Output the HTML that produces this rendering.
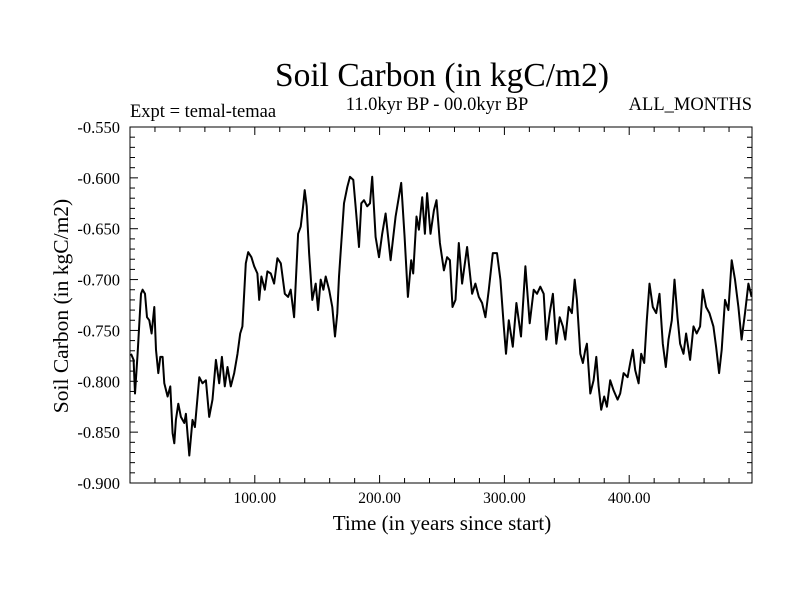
<!DOCTYPE html>
<html><head><meta charset="utf-8"><style>
body{margin:0;background:#fff;}
svg text{font-family:"Liberation Serif",serif;fill:#000;}
</style></head><body>
<svg id="chart" width="800" height="600" viewBox="0 0 800 600" xmlns="http://www.w3.org/2000/svg">
<rect width="800" height="600" fill="#fff"/>
<text x="442" y="86" font-size="33.5" text-anchor="middle">Soil Carbon (in kgC/m2)</text>
<text x="437" y="110" font-size="18.5" text-anchor="middle">11.0kyr BP - 00.0kyr BP</text>
<text x="130" y="117" font-size="18.5">Expt = temal-temaa</text>
<text x="752" y="110" font-size="18.5" text-anchor="end">ALL_MONTHS</text>
<g id="axes"></g>
<text x="442" y="530" font-size="21" text-anchor="middle">Time (in years since start)</text>
<text transform="translate(68,306) rotate(-90)" font-size="21.5" text-anchor="middle">Soil Carbon (in kgC/m2)</text>
</svg>
<script>
const years=[0.8,2.9,4.0,6.1,8.8,10.1,12.0,13.6,15.5,17.3,19.5,20.8,22.7,24.3,26.1,27.5,30.1,32.3,34.1,35.5,36.8,38.7,40.8,43.5,44.8,47.5,50.1,52.0,55.5,58.1,60.8,63.5,66.1,68.8,71.5,73.6,76.0,78.1,80.8,83.5,86.1,88.3,90.1,92.8,94.7,97.3,99.5,102.1,103.5,105.3,108.0,110.1,112.8,115.5,118.1,120.8,124.0,126.7,128.8,131.5,134.7,136.8,138.7,140.0,141.6,143.5,146.1,148.8,150.7,152.8,155.0,156.8,159.5,162.1,164.3,166.1,167.5,171.5,174.1,176.3,178.9,180.8,183.5,185.3,187.5,190.1,192.3,194.1,196.8,199.5,202.1,204.8,208.8,212.8,217.3,220.0,222.7,225.3,226.9,229.6,231.5,234.1,236.3,238.1,240.8,243.5,245.6,248.3,251.5,254.1,256.3,258.4,260.8,263.5,266.1,270.1,274.1,276.8,279.5,282.1,284.8,287.5,290.7,294.1,296.8,299.5,301.3,303.5,306.7,309.6,313.3,316.8,320.3,323.5,326.1,328.8,331.5,333.6,336.3,338.9,341.6,344.3,346.9,348.8,351.5,354.1,356.3,358.1,360.8,362.9,364.8,366.1,368.8,371.5,373.6,375.5,377.6,380.0,382.1,384.8,387.5,390.7,392.8,395.5,398.7,400.8,402.9,404.8,407.5,409.6,412.0,414.1,416.3,418.9,421.6,424.3,426.9,429.3,431.5,434.1,436.3,438.7,440.8,443.5,445.6,448.8,451.5,454.1,456.8,458.9,461.6,464.3,467.5,469.6,472.0,474.1,476.8,479.5,482.1,484.8,487.5,490.1,492.8,495.5,498.1];
const carbon=[-0.773,-0.779,-0.812,-0.773,-0.714,-0.710,-0.714,-0.737,-0.740,-0.753,-0.727,-0.769,-0.792,-0.776,-0.776,-0.802,-0.815,-0.805,-0.851,-0.861,-0.838,-0.822,-0.835,-0.841,-0.832,-0.873,-0.838,-0.845,-0.796,-0.802,-0.799,-0.835,-0.818,-0.779,-0.802,-0.776,-0.805,-0.786,-0.805,-0.792,-0.773,-0.753,-0.746,-0.684,-0.673,-0.678,-0.687,-0.694,-0.720,-0.697,-0.710,-0.692,-0.694,-0.704,-0.679,-0.684,-0.714,-0.717,-0.710,-0.737,-0.655,-0.648,-0.628,-0.612,-0.628,-0.674,-0.720,-0.704,-0.730,-0.700,-0.710,-0.697,-0.710,-0.727,-0.756,-0.733,-0.697,-0.625,-0.609,-0.599,-0.602,-0.628,-0.668,-0.625,-0.622,-0.628,-0.625,-0.599,-0.658,-0.678,-0.655,-0.635,-0.681,-0.638,-0.605,-0.658,-0.717,-0.681,-0.694,-0.638,-0.651,-0.619,-0.655,-0.615,-0.655,-0.632,-0.622,-0.664,-0.691,-0.678,-0.681,-0.727,-0.720,-0.664,-0.704,-0.668,-0.714,-0.704,-0.717,-0.723,-0.737,-0.710,-0.674,-0.674,-0.700,-0.746,-0.773,-0.740,-0.766,-0.723,-0.756,-0.687,-0.743,-0.710,-0.714,-0.707,-0.714,-0.759,-0.733,-0.714,-0.763,-0.737,-0.746,-0.759,-0.727,-0.733,-0.700,-0.720,-0.773,-0.782,-0.769,-0.763,-0.812,-0.799,-0.776,-0.805,-0.828,-0.815,-0.825,-0.799,-0.809,-0.818,-0.812,-0.792,-0.796,-0.782,-0.769,-0.789,-0.802,-0.773,-0.782,-0.740,-0.704,-0.727,-0.733,-0.714,-0.763,-0.786,-0.759,-0.740,-0.700,-0.737,-0.763,-0.773,-0.753,-0.779,-0.746,-0.753,-0.746,-0.710,-0.727,-0.733,-0.746,-0.766,-0.792,-0.769,-0.720,-0.730,-0.681,-0.700,-0.727,-0.759,-0.733,-0.704,-0.717];
const xTicks=[100,200,300,400];
const xTickLabels=["100.00","200.00","300.00","400.00"];
const yTicks=[-0.55,-0.6,-0.65,-0.7,-0.75,-0.8,-0.85,-0.9];
const yTickLabels=["-0.550","-0.600","-0.650","-0.700","-0.750","-0.800","-0.850","-0.900"];

const L=130,R=752,T=127,B=483;
const X0=0,X1=498.4,Y0=-0.9,Y1=-0.55;
function xs(v){return L+(v-X0)/(X1-X0)*(R-L);}
function ys(v){return B-(v-Y0)/(Y1-Y0)*(B-T);}
const NS="http://www.w3.org/2000/svg";
const g=document.getElementById('axes');
function mk(tag,attrs){const e=document.createElementNS(NS,tag);for(const k in attrs)e.setAttribute(k,attrs[k]);g.appendChild(e);return e;}

const frame=mk('rect',{x:L,y:T,width:R-L,height:B-T,fill:'none',stroke:'#000','stroke-width':1});



for(let v=20;v<=X1;v+=20){
  const major=(v%100===0);
  const len=major?8:5;
  const x=xs(v);
  const t1=mk('line',{x1:x,x2:x,y1:B,y2:B-len,stroke:'#000','stroke-width':1});
  
  
  const t2=mk('line',{x1:x,x2:x,y1:T,y2:T+len,stroke:'#000','stroke-width':1});
  
  
}
xTicks.forEach((v,i)=>{
  const t=mk('text',{x:xs(v),y:503,'font-size':15.5,'text-anchor':'middle'});
  t.textContent=xTickLabels[i];
  
  
});
for(let k=0;k<=35;k++){
  const v=Y0+k*0.01;
  const major=(k%5===0);
  const len=major?8:5;
  const y=ys(v);
  const t1=mk('line',{x1:L,x2:L+len,y1:y,y2:y,stroke:'#000','stroke-width':1});
  
  
  const t2=mk('line',{x1:R,x2:R-len,y1:y,y2:y,stroke:'#000','stroke-width':1});
  
  
}
yTicks.forEach((v,i)=>{
  const t=mk('text',{x:120,y:ys(v)+6,'font-size':16.5,'text-anchor':'end'});
  t.textContent=yTickLabels[i];
  
  
});
let d='';
years.forEach((yr,i)=>{d+=(i?'L':'M')+xs(yr).toFixed(1)+','+ys(carbon[i]).toFixed(1);});
const line=mk('path',{d:d,fill:'none',stroke:'#000','stroke-width':2,'stroke-linejoin':'round'});


</script>
</body></html>
